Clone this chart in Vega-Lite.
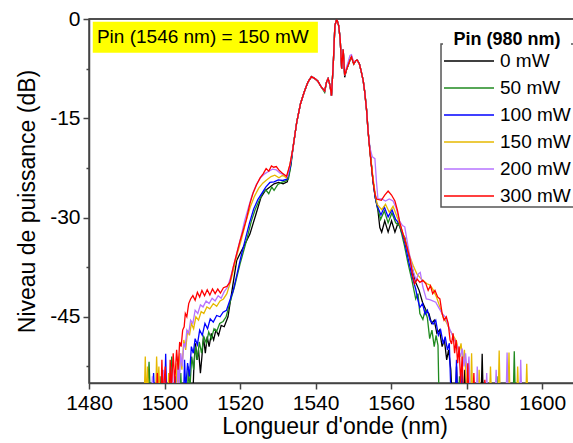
{
"$schema":"https://vega.github.io/schema/vega-lite/v6.json",
"width":491,"height":364,
"autosize":{"type":"none"},
"padding":{"left":89,"top":19,"right":0,"bottom":60},
"background":"white",
"config":{
"font":"Liberation Sans",
"view":{"stroke":"#444","strokeWidth":1.5},
"axis":{"grid":false,"domainColor":"#444","domainWidth":1.5,"tickColor":"#444","tickWidth":1.5,"labelFont":"Liberation Sans","labelFontSize":21,"labelColor":"#000","titleFont":"Liberation Sans","titleFontSize":23,"titleFontWeight":"normal","titleColor":"#000"}
},
"layer":[
{
"data":{"values":[
{"pin":"0 mW","wl":1496.0,"db":-58},{"pin":"0 mW","wl":1499.0,"db":-58},{"pin":"0 mW","wl":1499.3,"db":-53},{"pin":"0 mW","wl":1499.6,"db":-58},{"pin":"0 mW","wl":1503.5,"db":-58},{"pin":"0 mW","wl":1503.8,"db":-54},{"pin":"0 mW","wl":1504.1,"db":-58},{"pin":"0 mW","wl":1506.5,"db":-58},{"pin":"0 mW","wl":1506.8,"db":-54.5},{"pin":"0 mW","wl":1507.1,"db":-58},{"pin":"0 mW","wl":1507.5,"db":-57},{"pin":"0 mW","wl":1507.8,"db":-52},{"pin":"0 mW","wl":1508.2,"db":-49},{"pin":"0 mW","wl":1508.6,"db":-51.5},{"pin":"0 mW","wl":1509.0,"db":-50},{"pin":"0 mW","wl":1509.5,"db":-53.5},{"pin":"0 mW","wl":1509.9,"db":-51},{"pin":"0 mW","wl":1510.3,"db":-48},{"pin":"0 mW","wl":1510.8,"db":-50.5},{"pin":"0 mW","wl":1511.3,"db":-48},{"pin":"0 mW","wl":1511.8,"db":-49.5},{"pin":"0 mW","wl":1512.4,"db":-47.5},{"pin":"0 mW","wl":1513.0,"db":-48.5},{"pin":"0 mW","wl":1513.6,"db":-47},{"pin":"0 mW","wl":1514.3,"db":-47.8},{"pin":"0 mW","wl":1515.0,"db":-46.3},{"pin":"0 mW","wl":1515.8,"db":-46.5},{"pin":"0 mW","wl":1516.8,"db":-45},{"pin":"0 mW","wl":1518.0,"db":-40.5},{"pin":"0 mW","wl":1519.1,"db":-36.5},{"pin":"0 mW","wl":1520.2,"db":-35.2},{"pin":"0 mW","wl":1521.3,"db":-34},{"pin":"0 mW","wl":1522.6,"db":-32.5},{"pin":"0 mW","wl":1524.2,"db":-29.5},{"pin":"0 mW","wl":1525.5,"db":-27},{"pin":"0 mW","wl":1526.7,"db":-25.9},{"pin":"0 mW","wl":1527.9,"db":-25.4},{"pin":"0 mW","wl":1529.0,"db":-24.9},{"pin":"0 mW","wl":1530.2,"db":-24.7},{"pin":"0 mW","wl":1531.4,"db":-24.9},{"pin":"0 mW","wl":1532.5,"db":-24.6},{"pin":"0 mW","wl":1533.3,"db":-22.5},
{"pin":"0 mW","wl":1534.0,"db":-19.5},{"pin":"0 mW","wl":1535.0,"db":-15.6},{"pin":"0 mW","wl":1536.0,"db":-12.8},{"pin":"0 mW","wl":1537.0,"db":-11.0},{"pin":"0 mW","wl":1538.0,"db":-9.5},{"pin":"0 mW","wl":1538.9,"db":-8.7},{"pin":"0 mW","wl":1539.8,"db":-9.0},{"pin":"0 mW","wl":1540.6,"db":-9.4},{"pin":"0 mW","wl":1541.4,"db":-10.2},{"pin":"0 mW","wl":1542.4,"db":-10.9},{"pin":"0 mW","wl":1542.9,"db":-9.5},{"pin":"0 mW","wl":1543.3,"db":-9.0},{"pin":"0 mW","wl":1543.8,"db":-10.0},{"pin":"0 mW","wl":1544.2,"db":-11.6},{"pin":"0 mW","wl":1544.7,"db":-6.5},{"pin":"0 mW","wl":1545.1,"db":-1.0},{"pin":"0 mW","wl":1545.6,"db":0},{"pin":"0 mW","wl":1546.1,"db":-1.0},{"pin":"0 mW","wl":1546.5,"db":-3.0},{"pin":"0 mW","wl":1546.9,"db":-7.5},{"pin":"0 mW","wl":1547.3,"db":-4.6},{"pin":"0 mW","wl":1547.7,"db":-8.8},{"pin":"0 mW","wl":1548.2,"db":-7.6},{"pin":"0 mW","wl":1548.6,"db":-7.0},{"pin":"0 mW","wl":1549.1,"db":-6.2},{"pin":"0 mW","wl":1549.5,"db":-5.7},{"pin":"0 mW","wl":1550.1,"db":-6.8},{"pin":"0 mW","wl":1550.6,"db":-6.3},{"pin":"0 mW","wl":1551.0,"db":-6.2},{"pin":"0 mW","wl":1551.6,"db":-6.8},{"pin":"0 mW","wl":1552.1,"db":-8.0},{"pin":"0 mW","wl":1552.6,"db":-9.3},{"pin":"0 mW","wl":1553.0,"db":-11.0},{"pin":"0 mW","wl":1553.5,"db":-13.8},{"pin":"0 mW","wl":1553.9,"db":-17.0},
{"pin":"0 mW","wl":1554.5,"db":-20.5},{"pin":"0 mW","wl":1555.2,"db":-24.5},{"pin":"0 mW","wl":1555.8,"db":-27},{"pin":"0 mW","wl":1556.5,"db":-28.9},{"pin":"0 mW","wl":1557.0,"db":-31.5},{"pin":"0 mW","wl":1557.5,"db":-32.2},{"pin":"0 mW","wl":1558.3,"db":-30.5},{"pin":"0 mW","wl":1559.2,"db":-32.2},{"pin":"0 mW","wl":1560.1,"db":-30.5},{"pin":"0 mW","wl":1561.0,"db":-32.2},{"pin":"0 mW","wl":1561.9,"db":-30.7},{"pin":"0 mW","wl":1562.8,"db":-32.3},{"pin":"0 mW","wl":1563.6,"db":-33},{"pin":"0 mW","wl":1564.3,"db":-34.8},{"pin":"0 mW","wl":1565.5,"db":-37.5},{"pin":"0 mW","wl":1566.5,"db":-39.8},{"pin":"0 mW","wl":1567.4,"db":-41},{"pin":"0 mW","wl":1568.3,"db":-42.8},{"pin":"0 mW","wl":1569.3,"db":-44.1},{"pin":"0 mW","wl":1570.0,"db":-44.5},{"pin":"0 mW","wl":1570.7,"db":-46},{"pin":"0 mW","wl":1571.4,"db":-45.5},{"pin":"0 mW","wl":1572.1,"db":-47.5},{"pin":"0 mW","wl":1572.8,"db":-47},{"pin":"0 mW","wl":1573.5,"db":-49.5},{"pin":"0 mW","wl":1574.1,"db":-48.5},{"pin":"0 mW","wl":1574.7,"db":-51.5},{"pin":"0 mW","wl":1575.2,"db":-50},{"pin":"0 mW","wl":1575.8,"db":-53},{"pin":"0 mW","wl":1576.2,"db":-58},{"pin":"0 mW","wl":1577.0,"db":-58},{"pin":"0 mW","wl":1577.3,"db":-52.5},{"pin":"0 mW","wl":1577.6,"db":-58},{"pin":"0 mW","wl":1579.2,"db":-58},{"pin":"0 mW","wl":1579.5,"db":-53},{"pin":"0 mW","wl":1579.8,"db":-58},{"pin":"0 mW","wl":1583.8,"db":-58},{"pin":"0 mW","wl":1584.1,"db":-50.6},{"pin":"0 mW","wl":1584.4,"db":-58},{"pin":"0 mW","wl":1586.0,"db":-58},

{"pin":"50 mW","wl":1495.4,"db":-58},{"pin":"50 mW","wl":1495.9,"db":-51.8},{"pin":"50 mW","wl":1496.3,"db":-58},{"pin":"50 mW","wl":1498.5,"db":-58},{"pin":"50 mW","wl":1498.8,"db":-54},{"pin":"50 mW","wl":1499.1,"db":-58},{"pin":"50 mW","wl":1501.6,"db":-58},{"pin":"50 mW","wl":1501.9,"db":-51},{"pin":"50 mW","wl":1502.2,"db":-58},{"pin":"50 mW","wl":1504.0,"db":-58},{"pin":"50 mW","wl":1504.3,"db":-53.5},{"pin":"50 mW","wl":1504.6,"db":-58},{"pin":"50 mW","wl":1506.0,"db":-58},{"pin":"50 mW","wl":1506.3,"db":-52.5},{"pin":"50 mW","wl":1506.7,"db":-56},{"pin":"50 mW","wl":1507.2,"db":-51},{"pin":"50 mW","wl":1507.7,"db":-53},{"pin":"50 mW","wl":1508.2,"db":-49.5},{"pin":"50 mW","wl":1508.7,"db":-51.5},{"pin":"50 mW","wl":1509.2,"db":-48.8},{"pin":"50 mW","wl":1509.8,"db":-50.5},{"pin":"50 mW","wl":1510.4,"db":-48},{"pin":"50 mW","wl":1511.1,"db":-49},{"pin":"50 mW","wl":1511.7,"db":-47.3},{"pin":"50 mW","wl":1512.4,"db":-48.3},{"pin":"50 mW","wl":1513.1,"db":-46.8},{"pin":"50 mW","wl":1513.8,"db":-47.2},{"pin":"50 mW","wl":1514.6,"db":-46},{"pin":"50 mW","wl":1515.5,"db":-45.7},{"pin":"50 mW","wl":1516.3,"db":-45},{"pin":"50 mW","wl":1517.0,"db":-43.5},{"pin":"50 mW","wl":1518.5,"db":-40.5},{"pin":"50 mW","wl":1520.0,"db":-37},{"pin":"50 mW","wl":1521.7,"db":-33.5},{"pin":"50 mW","wl":1523.0,"db":-30.5},{"pin":"50 mW","wl":1524.0,"db":-28.8},{"pin":"50 mW","wl":1525.0,"db":-27.5},{"pin":"50 mW","wl":1526.0,"db":-26.3},{"pin":"50 mW","wl":1526.8,"db":-25.8},{"pin":"50 mW","wl":1527.6,"db":-26.4},{"pin":"50 mW","wl":1528.4,"db":-25.4},{"pin":"50 mW","wl":1529.0,"db":-25.9},{"pin":"50 mW","wl":1530.0,"db":-25},{"pin":"50 mW","wl":1531.0,"db":-24.7},{"pin":"50 mW","wl":1532.0,"db":-24.5},{"pin":"50 mW","wl":1532.8,"db":-24.2},{"pin":"50 mW","wl":1533.5,"db":-22},
{"pin":"50 mW","wl":1534.0,"db":-19.5},{"pin":"50 mW","wl":1535.0,"db":-15.6},{"pin":"50 mW","wl":1536.0,"db":-12.8},{"pin":"50 mW","wl":1537.0,"db":-11.0},{"pin":"50 mW","wl":1538.0,"db":-9.5},{"pin":"50 mW","wl":1538.9,"db":-8.7},{"pin":"50 mW","wl":1539.8,"db":-9.0},{"pin":"50 mW","wl":1540.6,"db":-9.4},{"pin":"50 mW","wl":1541.4,"db":-10.2},{"pin":"50 mW","wl":1542.4,"db":-11.1},{"pin":"50 mW","wl":1542.9,"db":-9.5},{"pin":"50 mW","wl":1543.3,"db":-9.0},{"pin":"50 mW","wl":1543.8,"db":-10.0},{"pin":"50 mW","wl":1544.2,"db":-11.6},{"pin":"50 mW","wl":1544.7,"db":-6.5},{"pin":"50 mW","wl":1545.1,"db":-1.0},{"pin":"50 mW","wl":1545.6,"db":0},{"pin":"50 mW","wl":1546.1,"db":-1.0},{"pin":"50 mW","wl":1546.5,"db":-3.0},{"pin":"50 mW","wl":1546.9,"db":-7.5},{"pin":"50 mW","wl":1547.3,"db":-4.6},{"pin":"50 mW","wl":1547.7,"db":-8.5},{"pin":"50 mW","wl":1548.2,"db":-7.6},{"pin":"50 mW","wl":1548.6,"db":-7.0},{"pin":"50 mW","wl":1549.1,"db":-6.2},{"pin":"50 mW","wl":1549.5,"db":-5.7},{"pin":"50 mW","wl":1550.1,"db":-6.8},{"pin":"50 mW","wl":1550.6,"db":-6.3},{"pin":"50 mW","wl":1551.0,"db":-6.2},{"pin":"50 mW","wl":1551.6,"db":-6.8},{"pin":"50 mW","wl":1552.1,"db":-8.0},{"pin":"50 mW","wl":1552.6,"db":-9.3},{"pin":"50 mW","wl":1553.0,"db":-11.0},{"pin":"50 mW","wl":1553.5,"db":-13.8},{"pin":"50 mW","wl":1553.9,"db":-17.0},
{"pin":"50 mW","wl":1554.5,"db":-20.5},{"pin":"50 mW","wl":1555.2,"db":-24.5},{"pin":"50 mW","wl":1555.8,"db":-27},{"pin":"50 mW","wl":1556.4,"db":-28.5},{"pin":"50 mW","wl":1557.2,"db":-30.3},{"pin":"50 mW","wl":1558.2,"db":-29},{"pin":"50 mW","wl":1559.2,"db":-30.8},{"pin":"50 mW","wl":1560.2,"db":-29.3},{"pin":"50 mW","wl":1561.2,"db":-30.8},{"pin":"50 mW","wl":1562.3,"db":-31.3},{"pin":"50 mW","wl":1563.5,"db":-34.2},{"pin":"50 mW","wl":1564.5,"db":-37},{"pin":"50 mW","wl":1565.5,"db":-39.5},{"pin":"50 mW","wl":1566.5,"db":-42.3},{"pin":"50 mW","wl":1567.1,"db":-41.5},{"pin":"50 mW","wl":1567.6,"db":-44.5},{"pin":"50 mW","wl":1568.4,"db":-45.4},{"pin":"50 mW","wl":1569.0,"db":-44},{"pin":"50 mW","wl":1569.6,"db":-45.2},{"pin":"50 mW","wl":1570.2,"db":-48.3},{"pin":"50 mW","wl":1570.8,"db":-47},{"pin":"50 mW","wl":1571.4,"db":-49.5},{"pin":"50 mW","wl":1571.9,"db":-47.8},{"pin":"50 mW","wl":1572.4,"db":-49.3},{"pin":"50 mW","wl":1572.7,"db":-58},{"pin":"50 mW","wl":1577.8,"db":-58},{"pin":"50 mW","wl":1578.1,"db":-54},{"pin":"50 mW","wl":1578.4,"db":-58},{"pin":"50 mW","wl":1588.0,"db":-58},{"pin":"50 mW","wl":1588.3,"db":-54},{"pin":"50 mW","wl":1588.6,"db":-58},{"pin":"50 mW","wl":1592.3,"db":-58},{"pin":"50 mW","wl":1592.6,"db":-50.2},{"pin":"50 mW","wl":1592.9,"db":-58},

{"pin":"100 mW","wl":1496.8,"db":-58},{"pin":"100 mW","wl":1497.1,"db":-53.5},{"pin":"100 mW","wl":1497.4,"db":-58},{"pin":"100 mW","wl":1500.0,"db":-58},{"pin":"100 mW","wl":1500.3,"db":-50.6},{"pin":"100 mW","wl":1500.6,"db":-58},{"pin":"100 mW","wl":1502.5,"db":-58},{"pin":"100 mW","wl":1502.8,"db":-54},{"pin":"100 mW","wl":1503.1,"db":-58},{"pin":"100 mW","wl":1505.0,"db":-58},{"pin":"100 mW","wl":1505.3,"db":-51.5},{"pin":"100 mW","wl":1505.6,"db":-56},{"pin":"100 mW","wl":1506.1,"db":-52},{"pin":"100 mW","wl":1506.6,"db":-54},{"pin":"100 mW","wl":1507.1,"db":-49.5},{"pin":"100 mW","wl":1507.6,"db":-50.5},{"pin":"100 mW","wl":1508.1,"db":-48.3},{"pin":"100 mW","wl":1508.7,"db":-49.2},{"pin":"100 mW","wl":1509.3,"db":-47},{"pin":"100 mW","wl":1510.0,"db":-47.8},{"pin":"100 mW","wl":1510.7,"db":-46},{"pin":"100 mW","wl":1511.4,"db":-46.8},{"pin":"100 mW","wl":1512.1,"db":-45.3},{"pin":"100 mW","wl":1512.9,"db":-45.8},{"pin":"100 mW","wl":1513.8,"db":-44.8},{"pin":"100 mW","wl":1514.7,"db":-45},{"pin":"100 mW","wl":1515.5,"db":-44.3},{"pin":"100 mW","wl":1516.4,"db":-44},{"pin":"100 mW","wl":1517.3,"db":-42.5},{"pin":"100 mW","wl":1518.2,"db":-41},{"pin":"100 mW","wl":1519.2,"db":-38.5},{"pin":"100 mW","wl":1520.2,"db":-36},{"pin":"100 mW","wl":1521.3,"db":-33.5},{"pin":"100 mW","wl":1522.5,"db":-30.8},{"pin":"100 mW","wl":1523.6,"db":-28.7},{"pin":"100 mW","wl":1524.7,"db":-27.3},{"pin":"100 mW","wl":1525.8,"db":-26.3},{"pin":"100 mW","wl":1526.8,"db":-25.4},{"pin":"100 mW","wl":1527.9,"db":-24.7},{"pin":"100 mW","wl":1529.0,"db":-24.6},{"pin":"100 mW","wl":1530.1,"db":-24.3},{"pin":"100 mW","wl":1531.3,"db":-24.4},{"pin":"100 mW","wl":1532.4,"db":-24.2},{"pin":"100 mW","wl":1533.3,"db":-22.3},
{"pin":"100 mW","wl":1534.0,"db":-19.5},{"pin":"100 mW","wl":1535.0,"db":-15.6},{"pin":"100 mW","wl":1536.0,"db":-12.8},{"pin":"100 mW","wl":1537.0,"db":-11.0},{"pin":"100 mW","wl":1538.0,"db":-9.5},{"pin":"100 mW","wl":1538.9,"db":-8.7},{"pin":"100 mW","wl":1539.8,"db":-9.0},{"pin":"100 mW","wl":1540.6,"db":-9.4},{"pin":"100 mW","wl":1541.4,"db":-10.2},{"pin":"100 mW","wl":1542.4,"db":-10.9},{"pin":"100 mW","wl":1542.9,"db":-9.5},{"pin":"100 mW","wl":1543.3,"db":-9.0},{"pin":"100 mW","wl":1543.8,"db":-10.0},{"pin":"100 mW","wl":1544.2,"db":-11.6},{"pin":"100 mW","wl":1544.7,"db":-6.5},{"pin":"100 mW","wl":1545.1,"db":-1.0},{"pin":"100 mW","wl":1545.6,"db":0},{"pin":"100 mW","wl":1546.1,"db":-1.0},{"pin":"100 mW","wl":1546.5,"db":-3.0},{"pin":"100 mW","wl":1546.9,"db":-7.5},{"pin":"100 mW","wl":1547.3,"db":-4.6},{"pin":"100 mW","wl":1547.7,"db":-8.5},{"pin":"100 mW","wl":1548.2,"db":-7.6},{"pin":"100 mW","wl":1548.6,"db":-7.0},{"pin":"100 mW","wl":1549.1,"db":-6.2},{"pin":"100 mW","wl":1549.5,"db":-5.7},{"pin":"100 mW","wl":1550.1,"db":-6.8},{"pin":"100 mW","wl":1550.6,"db":-6.3},{"pin":"100 mW","wl":1551.0,"db":-6.2},{"pin":"100 mW","wl":1551.6,"db":-6.8},{"pin":"100 mW","wl":1552.1,"db":-8.0},{"pin":"100 mW","wl":1552.6,"db":-9.3},{"pin":"100 mW","wl":1553.0,"db":-11.0},{"pin":"100 mW","wl":1553.5,"db":-13.8},{"pin":"100 mW","wl":1553.9,"db":-17.0},
{"pin":"100 mW","wl":1554.5,"db":-20.5},{"pin":"100 mW","wl":1555.2,"db":-24.5},{"pin":"100 mW","wl":1555.8,"db":-27},{"pin":"100 mW","wl":1556.3,"db":-28.2},{"pin":"100 mW","wl":1557.3,"db":-29.6},{"pin":"100 mW","wl":1558.2,"db":-28.4},{"pin":"100 mW","wl":1559.2,"db":-29.9},{"pin":"100 mW","wl":1560.2,"db":-28.8},{"pin":"100 mW","wl":1561.2,"db":-30.3},{"pin":"100 mW","wl":1562.3,"db":-31},{"pin":"100 mW","wl":1563.5,"db":-33.5},{"pin":"100 mW","wl":1564.6,"db":-36.5},{"pin":"100 mW","wl":1565.6,"db":-39},{"pin":"100 mW","wl":1566.5,"db":-40.8},{"pin":"100 mW","wl":1567.1,"db":-42.5},{"pin":"100 mW","wl":1567.6,"db":-43.6},{"pin":"100 mW","wl":1568.3,"db":-43},{"pin":"100 mW","wl":1569.0,"db":-44.6},{"pin":"100 mW","wl":1569.6,"db":-44},{"pin":"100 mW","wl":1570.3,"db":-45.5},{"pin":"100 mW","wl":1571.1,"db":-46.1},{"pin":"100 mW","wl":1571.8,"db":-45.5},{"pin":"100 mW","wl":1572.5,"db":-47.8},{"pin":"100 mW","wl":1573.1,"db":-47},{"pin":"100 mW","wl":1573.8,"db":-49.1},{"pin":"100 mW","wl":1574.3,"db":-48},{"pin":"100 mW","wl":1574.9,"db":-50},{"pin":"100 mW","wl":1575.4,"db":-49},{"pin":"100 mW","wl":1575.9,"db":-58},{"pin":"100 mW","wl":1577.0,"db":-58},{"pin":"100 mW","wl":1577.3,"db":-51.5},{"pin":"100 mW","wl":1577.6,"db":-58},{"pin":"100 mW","wl":1578.5,"db":-58},{"pin":"100 mW","wl":1578.8,"db":-53},{"pin":"100 mW","wl":1579.1,"db":-58},{"pin":"100 mW","wl":1580.0,"db":-58},

{"pin":"150 mW","wl":1494.6,"db":-58},{"pin":"150 mW","wl":1494.9,"db":-51},{"pin":"150 mW","wl":1495.2,"db":-58},{"pin":"150 mW","wl":1495.5,"db":-52.5},{"pin":"150 mW","wl":1495.8,"db":-58},{"pin":"150 mW","wl":1497.6,"db":-58},{"pin":"150 mW","wl":1497.9,"db":-51},{"pin":"150 mW","wl":1498.2,"db":-56},{"pin":"150 mW","wl":1498.5,"db":-52.5},{"pin":"150 mW","wl":1498.8,"db":-58},{"pin":"150 mW","wl":1500.8,"db":-58},{"pin":"150 mW","wl":1501.1,"db":-53.5},{"pin":"150 mW","wl":1501.4,"db":-58},{"pin":"150 mW","wl":1503.0,"db":-58},{"pin":"150 mW","wl":1503.3,"db":-52},{"pin":"150 mW","wl":1503.6,"db":-56},{"pin":"150 mW","wl":1504.1,"db":-50.5},{"pin":"150 mW","wl":1504.6,"db":-53},{"pin":"150 mW","wl":1505.1,"db":-48.5},{"pin":"150 mW","wl":1505.6,"db":-50},{"pin":"150 mW","wl":1506.1,"db":-47},{"pin":"150 mW","wl":1506.6,"db":-47.8},{"pin":"150 mW","wl":1507.1,"db":-46},{"pin":"150 mW","wl":1507.7,"db":-46.8},{"pin":"150 mW","wl":1508.3,"db":-45},{"pin":"150 mW","wl":1509.0,"db":-45.5},{"pin":"150 mW","wl":1509.7,"db":-44.2},{"pin":"150 mW","wl":1510.4,"db":-44.5},{"pin":"150 mW","wl":1511.2,"db":-43.5},{"pin":"150 mW","wl":1512.0,"db":-43.8},{"pin":"150 mW","wl":1512.9,"db":-43},{"pin":"150 mW","wl":1513.8,"db":-43.4},{"pin":"150 mW","wl":1514.7,"db":-42.6},{"pin":"150 mW","wl":1515.6,"db":-42.3},{"pin":"150 mW","wl":1516.5,"db":-41.5},{"pin":"150 mW","wl":1517.3,"db":-40},{"pin":"150 mW","wl":1518.2,"db":-38},{"pin":"150 mW","wl":1519.2,"db":-35.6},{"pin":"150 mW","wl":1520.4,"db":-33.2},{"pin":"150 mW","wl":1521.6,"db":-30.5},{"pin":"150 mW","wl":1522.7,"db":-28.4},{"pin":"150 mW","wl":1523.8,"db":-26.8},{"pin":"150 mW","wl":1524.9,"db":-25.6},{"pin":"150 mW","wl":1526.0,"db":-24.8},{"pin":"150 mW","wl":1527.1,"db":-24.3},{"pin":"150 mW","wl":1528.2,"db":-23.8},{"pin":"150 mW","wl":1529.2,"db":-23.6},{"pin":"150 mW","wl":1530.3,"db":-24},{"pin":"150 mW","wl":1531.3,"db":-23.6},{"pin":"150 mW","wl":1532.3,"db":-24},{"pin":"150 mW","wl":1533.2,"db":-22},
{"pin":"150 mW","wl":1534.0,"db":-19.5},{"pin":"150 mW","wl":1535.0,"db":-15.6},{"pin":"150 mW","wl":1536.0,"db":-12.8},{"pin":"150 mW","wl":1537.0,"db":-11.0},{"pin":"150 mW","wl":1538.0,"db":-9.5},{"pin":"150 mW","wl":1538.9,"db":-8.7},{"pin":"150 mW","wl":1539.8,"db":-9.0},{"pin":"150 mW","wl":1540.6,"db":-9.4},{"pin":"150 mW","wl":1541.4,"db":-10.2},{"pin":"150 mW","wl":1542.4,"db":-10.9},{"pin":"150 mW","wl":1542.9,"db":-9.5},{"pin":"150 mW","wl":1543.3,"db":-9.0},{"pin":"150 mW","wl":1543.8,"db":-10.0},{"pin":"150 mW","wl":1544.2,"db":-11.6},{"pin":"150 mW","wl":1544.7,"db":-6.5},{"pin":"150 mW","wl":1545.1,"db":-1.0},{"pin":"150 mW","wl":1545.6,"db":0},{"pin":"150 mW","wl":1546.1,"db":-1.0},{"pin":"150 mW","wl":1546.5,"db":-3.0},{"pin":"150 mW","wl":1546.9,"db":-7.5},{"pin":"150 mW","wl":1547.3,"db":-4.6},{"pin":"150 mW","wl":1547.7,"db":-8.5},{"pin":"150 mW","wl":1548.2,"db":-7.6},{"pin":"150 mW","wl":1548.6,"db":-7.0},{"pin":"150 mW","wl":1549.1,"db":-6.2},{"pin":"150 mW","wl":1549.5,"db":-5.7},{"pin":"150 mW","wl":1550.1,"db":-6.8},{"pin":"150 mW","wl":1550.6,"db":-6.3},{"pin":"150 mW","wl":1551.0,"db":-6.2},{"pin":"150 mW","wl":1551.6,"db":-6.8},{"pin":"150 mW","wl":1552.1,"db":-8.0},{"pin":"150 mW","wl":1552.6,"db":-9.3},{"pin":"150 mW","wl":1553.0,"db":-11.0},{"pin":"150 mW","wl":1553.5,"db":-13.8},{"pin":"150 mW","wl":1553.9,"db":-17.0},
{"pin":"150 mW","wl":1554.5,"db":-20.5},{"pin":"150 mW","wl":1555.2,"db":-24},{"pin":"150 mW","wl":1555.8,"db":-26.5},{"pin":"150 mW","wl":1556.3,"db":-28},{"pin":"150 mW","wl":1557.5,"db":-28.8},{"pin":"150 mW","wl":1558.5,"db":-28},{"pin":"150 mW","wl":1559.5,"db":-29.2},{"pin":"150 mW","wl":1560.5,"db":-28.3},{"pin":"150 mW","wl":1561.3,"db":-29.5},{"pin":"150 mW","wl":1562.3,"db":-31},{"pin":"150 mW","wl":1563.5,"db":-33},{"pin":"150 mW","wl":1564.7,"db":-35.5},{"pin":"150 mW","wl":1565.8,"db":-37.2},{"pin":"150 mW","wl":1566.8,"db":-38.5},{"pin":"150 mW","wl":1568.0,"db":-39.3},{"pin":"150 mW","wl":1569.5,"db":-40},{"pin":"150 mW","wl":1570.3,"db":-40.2},{"pin":"150 mW","wl":1571.1,"db":-40.9},{"pin":"150 mW","wl":1572.0,"db":-42},{"pin":"150 mW","wl":1572.9,"db":-43.5},{"pin":"150 mW","wl":1573.8,"db":-45.1},{"pin":"150 mW","wl":1574.6,"db":-45.8},{"pin":"150 mW","wl":1575.5,"db":-47},{"pin":"150 mW","wl":1576.4,"db":-47.8},{"pin":"150 mW","wl":1577.3,"db":-48.7},{"pin":"150 mW","wl":1578.0,"db":-50.5},{"pin":"150 mW","wl":1578.5,"db":-49},{"pin":"150 mW","wl":1579.0,"db":-52},{"pin":"150 mW","wl":1579.4,"db":-50},{"pin":"150 mW","wl":1579.8,"db":-54},{"pin":"150 mW","wl":1580.2,"db":-58},{"pin":"150 mW","wl":1581.0,"db":-58},{"pin":"150 mW","wl":1581.3,"db":-50.5},{"pin":"150 mW","wl":1581.6,"db":-58},{"pin":"150 mW","wl":1583.0,"db":-58},{"pin":"150 mW","wl":1583.3,"db":-53},{"pin":"150 mW","wl":1583.6,"db":-58},{"pin":"150 mW","wl":1586.0,"db":-58},{"pin":"150 mW","wl":1586.3,"db":-52.5},{"pin":"150 mW","wl":1586.6,"db":-58},{"pin":"150 mW","wl":1588.3,"db":-58},{"pin":"150 mW","wl":1588.6,"db":-50.1},{"pin":"150 mW","wl":1588.9,"db":-58},{"pin":"150 mW","wl":1590.9,"db":-58},{"pin":"150 mW","wl":1591.2,"db":-50.4},{"pin":"150 mW","wl":1591.5,"db":-58},{"pin":"150 mW","wl":1593.2,"db":-58},{"pin":"150 mW","wl":1593.5,"db":-52.5},{"pin":"150 mW","wl":1593.8,"db":-58},{"pin":"150 mW","wl":1595.6,"db":-58},{"pin":"150 mW","wl":1595.9,"db":-52.1},{"pin":"150 mW","wl":1596.2,"db":-58},

{"pin":"200 mW","wl":1496.5,"db":-58},{"pin":"200 mW","wl":1496.8,"db":-54},{"pin":"200 mW","wl":1497.1,"db":-58},{"pin":"200 mW","wl":1499.5,"db":-58},{"pin":"200 mW","wl":1499.8,"db":-53},{"pin":"200 mW","wl":1500.1,"db":-58},{"pin":"200 mW","wl":1501.8,"db":-58},{"pin":"200 mW","wl":1502.1,"db":-52.5},{"pin":"200 mW","wl":1502.4,"db":-58},{"pin":"200 mW","wl":1503.3,"db":-58},{"pin":"200 mW","wl":1503.6,"db":-51},{"pin":"200 mW","wl":1503.9,"db":-55},{"pin":"200 mW","wl":1504.3,"db":-50.5},{"pin":"200 mW","wl":1504.7,"db":-52.5},{"pin":"200 mW","wl":1505.1,"db":-49},{"pin":"200 mW","wl":1505.5,"db":-49.5},{"pin":"200 mW","wl":1505.9,"db":-47},{"pin":"200 mW","wl":1506.4,"db":-47.5},{"pin":"200 mW","wl":1506.9,"db":-45.5},{"pin":"200 mW","wl":1507.5,"db":-46},{"pin":"200 mW","wl":1508.1,"db":-44},{"pin":"200 mW","wl":1508.8,"db":-44.5},{"pin":"200 mW","wl":1509.5,"db":-43.2},{"pin":"200 mW","wl":1510.2,"db":-43.5},{"pin":"200 mW","wl":1511.0,"db":-42.6},{"pin":"200 mW","wl":1511.8,"db":-43},{"pin":"200 mW","wl":1512.6,"db":-42.2},{"pin":"200 mW","wl":1513.4,"db":-42.6},{"pin":"200 mW","wl":1514.2,"db":-41.8},{"pin":"200 mW","wl":1515.0,"db":-42.2},{"pin":"200 mW","wl":1515.8,"db":-41.2},{"pin":"200 mW","wl":1516.7,"db":-40.5},{"pin":"200 mW","wl":1517.5,"db":-39},{"pin":"200 mW","wl":1518.4,"db":-37},{"pin":"200 mW","wl":1519.3,"db":-35},{"pin":"200 mW","wl":1520.2,"db":-33},{"pin":"200 mW","wl":1521.2,"db":-30.5},{"pin":"200 mW","wl":1522.2,"db":-28.5},{"pin":"200 mW","wl":1523.2,"db":-26.6},{"pin":"200 mW","wl":1524.3,"db":-25},{"pin":"200 mW","wl":1525.4,"db":-24},{"pin":"200 mW","wl":1526.5,"db":-23.4},{"pin":"200 mW","wl":1527.6,"db":-23},{"pin":"200 mW","wl":1528.6,"db":-22.7},{"pin":"200 mW","wl":1529.6,"db":-22.8},{"pin":"200 mW","wl":1530.6,"db":-23.3},{"pin":"200 mW","wl":1531.6,"db":-23.5},{"pin":"200 mW","wl":1532.6,"db":-23.8},{"pin":"200 mW","wl":1533.3,"db":-21.8},
{"pin":"200 mW","wl":1534.0,"db":-19.5},{"pin":"200 mW","wl":1535.0,"db":-15.6},{"pin":"200 mW","wl":1536.0,"db":-12.8},{"pin":"200 mW","wl":1537.0,"db":-11.0},{"pin":"200 mW","wl":1538.0,"db":-9.5},{"pin":"200 mW","wl":1538.9,"db":-8.7},{"pin":"200 mW","wl":1539.8,"db":-9.0},{"pin":"200 mW","wl":1540.6,"db":-9.4},{"pin":"200 mW","wl":1541.4,"db":-10.2},{"pin":"200 mW","wl":1542.4,"db":-10.9},{"pin":"200 mW","wl":1542.9,"db":-9.5},{"pin":"200 mW","wl":1543.3,"db":-9.0},{"pin":"200 mW","wl":1543.8,"db":-10.0},{"pin":"200 mW","wl":1544.2,"db":-11.6},{"pin":"200 mW","wl":1544.7,"db":-6.5},{"pin":"200 mW","wl":1545.1,"db":-1.0},{"pin":"200 mW","wl":1545.6,"db":0},{"pin":"200 mW","wl":1546.1,"db":-1.0},{"pin":"200 mW","wl":1546.5,"db":-3.0},{"pin":"200 mW","wl":1546.9,"db":-7.5},{"pin":"200 mW","wl":1547.3,"db":-4.6},{"pin":"200 mW","wl":1547.7,"db":-8.5},{"pin":"200 mW","wl":1548.2,"db":-7.2},{"pin":"200 mW","wl":1548.6,"db":-6.5},{"pin":"200 mW","wl":1549.1,"db":-5.5},{"pin":"200 mW","wl":1549.5,"db":-5.4},{"pin":"200 mW","wl":1550.1,"db":-6.6},{"pin":"200 mW","wl":1550.6,"db":-6.3},{"pin":"200 mW","wl":1551.0,"db":-6.2},{"pin":"200 mW","wl":1551.6,"db":-6.8},{"pin":"200 mW","wl":1552.1,"db":-8.0},{"pin":"200 mW","wl":1552.6,"db":-9.3},{"pin":"200 mW","wl":1553.0,"db":-11.0},{"pin":"200 mW","wl":1553.5,"db":-13.8},{"pin":"200 mW","wl":1553.9,"db":-17.0},
{"pin":"200 mW","wl":1554.4,"db":-19.5},{"pin":"200 mW","wl":1555.0,"db":-20.8},{"pin":"200 mW","wl":1555.7,"db":-21.1},{"pin":"200 mW","wl":1556.1,"db":-24.5},{"pin":"200 mW","wl":1556.5,"db":-27.2},{"pin":"200 mW","wl":1557.5,"db":-27.2},{"pin":"200 mW","wl":1558.5,"db":-27.5},{"pin":"200 mW","wl":1559.5,"db":-27.2},{"pin":"200 mW","wl":1560.5,"db":-27.5},{"pin":"200 mW","wl":1561.3,"db":-28.5},{"pin":"200 mW","wl":1562.2,"db":-30.5},{"pin":"200 mW","wl":1563.0,"db":-31.2},{"pin":"200 mW","wl":1563.6,"db":-31.4},{"pin":"200 mW","wl":1564.3,"db":-33.8},{"pin":"200 mW","wl":1565.0,"db":-36},{"pin":"200 mW","wl":1565.8,"db":-38},{"pin":"200 mW","wl":1566.6,"db":-39.5},{"pin":"200 mW","wl":1567.2,"db":-38.5},{"pin":"200 mW","wl":1567.7,"db":-38.3},{"pin":"200 mW","wl":1568.4,"db":-40.5},{"pin":"200 mW","wl":1569.3,"db":-42.3},{"pin":"200 mW","wl":1570.2,"db":-42.4},{"pin":"200 mW","wl":1571.0,"db":-42.6},{"pin":"200 mW","wl":1571.8,"db":-42.8},{"pin":"200 mW","wl":1572.6,"db":-43.6},{"pin":"200 mW","wl":1573.5,"db":-44.5},{"pin":"200 mW","wl":1574.3,"db":-45},{"pin":"200 mW","wl":1575.1,"db":-46.3},{"pin":"200 mW","wl":1576.0,"db":-47.5},{"pin":"200 mW","wl":1576.8,"db":-48.5},{"pin":"200 mW","wl":1577.6,"db":-49.5},{"pin":"200 mW","wl":1578.3,"db":-51},{"pin":"200 mW","wl":1578.8,"db":-49.8},{"pin":"200 mW","wl":1579.3,"db":-52.5},{"pin":"200 mW","wl":1579.7,"db":-50.5},{"pin":"200 mW","wl":1580.2,"db":-54},{"pin":"200 mW","wl":1580.6,"db":-51},{"pin":"200 mW","wl":1581.0,"db":-58},{"pin":"200 mW","wl":1582.5,"db":-58},{"pin":"200 mW","wl":1582.8,"db":-52.5},{"pin":"200 mW","wl":1583.1,"db":-58},{"pin":"200 mW","wl":1585.0,"db":-58},{"pin":"200 mW","wl":1585.3,"db":-53.5},{"pin":"200 mW","wl":1585.6,"db":-58},{"pin":"200 mW","wl":1587.5,"db":-58},{"pin":"200 mW","wl":1587.8,"db":-53},{"pin":"200 mW","wl":1588.1,"db":-58},{"pin":"200 mW","wl":1590.4,"db":-58},{"pin":"200 mW","wl":1590.7,"db":-50.4},{"pin":"200 mW","wl":1591.0,"db":-58},{"pin":"200 mW","wl":1594.0,"db":-58},{"pin":"200 mW","wl":1594.3,"db":-51.5},{"pin":"200 mW","wl":1594.6,"db":-58},

{"pin":"300 mW","wl":1497.8,"db":-58},{"pin":"300 mW","wl":1498.1,"db":-53.5},{"pin":"300 mW","wl":1498.4,"db":-58},{"pin":"300 mW","wl":1499.0,"db":-58},{"pin":"300 mW","wl":1499.3,"db":-51.5},{"pin":"300 mW","wl":1499.6,"db":-57},{"pin":"300 mW","wl":1500.2,"db":-52.5},{"pin":"300 mW","wl":1500.5,"db":-58},{"pin":"300 mW","wl":1501.2,"db":-58},{"pin":"300 mW","wl":1501.5,"db":-51.5},{"pin":"300 mW","wl":1501.8,"db":-56},{"pin":"300 mW","wl":1502.3,"db":-50.5},{"pin":"300 mW","wl":1502.7,"db":-55},{"pin":"300 mW","wl":1503.2,"db":-50},{"pin":"300 mW","wl":1503.6,"db":-53},{"pin":"300 mW","wl":1504.0,"db":-48.8},{"pin":"300 mW","wl":1504.4,"db":-49.5},{"pin":"300 mW","wl":1504.8,"db":-47},{"pin":"300 mW","wl":1505.2,"db":-46.5},{"pin":"300 mW","wl":1505.5,"db":-44.5},{"pin":"300 mW","wl":1505.9,"db":-45},{"pin":"300 mW","wl":1506.4,"db":-43},{"pin":"300 mW","wl":1506.9,"db":-42.3},{"pin":"300 mW","wl":1507.5,"db":-41.8},{"pin":"300 mW","wl":1508.1,"db":-42.5},{"pin":"300 mW","wl":1508.7,"db":-41.3},{"pin":"300 mW","wl":1509.3,"db":-42},{"pin":"300 mW","wl":1509.9,"db":-41},{"pin":"300 mW","wl":1510.6,"db":-41.8},{"pin":"300 mW","wl":1511.3,"db":-40.9},{"pin":"300 mW","wl":1512.0,"db":-41.7},{"pin":"300 mW","wl":1512.7,"db":-40.8},{"pin":"300 mW","wl":1513.4,"db":-41.5},{"pin":"300 mW","wl":1514.1,"db":-40.8},{"pin":"300 mW","wl":1514.8,"db":-41.4},{"pin":"300 mW","wl":1515.6,"db":-40.6},{"pin":"300 mW","wl":1516.5,"db":-40.4},{"pin":"300 mW","wl":1517.3,"db":-39.8},{"pin":"300 mW","wl":1518.2,"db":-37.5},{"pin":"300 mW","wl":1519.1,"db":-35.5},{"pin":"300 mW","wl":1520.0,"db":-33.5},{"pin":"300 mW","wl":1520.9,"db":-31.8},{"pin":"300 mW","wl":1521.7,"db":-30.2},{"pin":"300 mW","wl":1522.6,"db":-27.9},{"pin":"300 mW","wl":1523.5,"db":-26.2},{"pin":"300 mW","wl":1524.4,"db":-25},{"pin":"300 mW","wl":1525.3,"db":-24},{"pin":"300 mW","wl":1526.1,"db":-23.4},{"pin":"300 mW","wl":1526.9,"db":-22.6},{"pin":"300 mW","wl":1527.6,"db":-23},{"pin":"300 mW","wl":1528.3,"db":-22.2},{"pin":"300 mW","wl":1528.9,"db":-22.4},{"pin":"300 mW","wl":1529.6,"db":-22.3},{"pin":"300 mW","wl":1530.4,"db":-22.9},{"pin":"300 mW","wl":1531.4,"db":-23.4},{"pin":"300 mW","wl":1532.3,"db":-23.8},{"pin":"300 mW","wl":1533.2,"db":-22},
{"pin":"300 mW","wl":1534.0,"db":-19.5},{"pin":"300 mW","wl":1535.0,"db":-15.6},{"pin":"300 mW","wl":1536.0,"db":-12.8},{"pin":"300 mW","wl":1537.0,"db":-11.0},{"pin":"300 mW","wl":1538.0,"db":-9.5},{"pin":"300 mW","wl":1538.9,"db":-8.7},{"pin":"300 mW","wl":1539.8,"db":-9.0},{"pin":"300 mW","wl":1540.6,"db":-9.4},{"pin":"300 mW","wl":1541.4,"db":-10.2},{"pin":"300 mW","wl":1542.4,"db":-10.9},{"pin":"300 mW","wl":1542.9,"db":-9.5},{"pin":"300 mW","wl":1543.3,"db":-9.0},{"pin":"300 mW","wl":1543.8,"db":-10.0},{"pin":"300 mW","wl":1544.2,"db":-11.6},{"pin":"300 mW","wl":1544.7,"db":-6.5},{"pin":"300 mW","wl":1545.1,"db":-1.0},{"pin":"300 mW","wl":1545.6,"db":0},{"pin":"300 mW","wl":1546.1,"db":-1.0},{"pin":"300 mW","wl":1546.5,"db":-3.0},{"pin":"300 mW","wl":1546.9,"db":-7.5},{"pin":"300 mW","wl":1547.3,"db":-4.6},{"pin":"300 mW","wl":1547.7,"db":-8.5},{"pin":"300 mW","wl":1548.2,"db":-7.6},{"pin":"300 mW","wl":1548.6,"db":-7.0},{"pin":"300 mW","wl":1549.1,"db":-6.2},{"pin":"300 mW","wl":1549.5,"db":-5.7},{"pin":"300 mW","wl":1550.1,"db":-6.8},{"pin":"300 mW","wl":1550.6,"db":-6.3},{"pin":"300 mW","wl":1551.0,"db":-6.2},{"pin":"300 mW","wl":1551.6,"db":-6.8},{"pin":"300 mW","wl":1552.1,"db":-8.0},{"pin":"300 mW","wl":1552.6,"db":-9.3},{"pin":"300 mW","wl":1553.0,"db":-11.0},{"pin":"300 mW","wl":1553.5,"db":-13.8},{"pin":"300 mW","wl":1553.9,"db":-17.0},
{"pin":"300 mW","wl":1554.5,"db":-20.8},{"pin":"300 mW","wl":1555.2,"db":-24.4},{"pin":"300 mW","wl":1555.7,"db":-26.4},{"pin":"300 mW","wl":1556.1,"db":-27.2},{"pin":"300 mW","wl":1557.4,"db":-27.4},{"pin":"300 mW","wl":1558.3,"db":-26.6},{"pin":"300 mW","wl":1559.2,"db":-26},{"pin":"300 mW","wl":1560.1,"db":-26.6},{"pin":"300 mW","wl":1561.0,"db":-27.5},{"pin":"300 mW","wl":1561.7,"db":-29},{"pin":"300 mW","wl":1562.3,"db":-30.8},{"pin":"300 mW","wl":1563.3,"db":-32.8},{"pin":"300 mW","wl":1564.2,"db":-34.5},{"pin":"300 mW","wl":1565.0,"db":-36.2},{"pin":"300 mW","wl":1565.6,"db":-38.5},{"pin":"300 mW","wl":1566.2,"db":-40},{"pin":"300 mW","wl":1566.9,"db":-39.3},{"pin":"300 mW","wl":1567.6,"db":-39.8},{"pin":"300 mW","wl":1568.4,"db":-39.5},{"pin":"300 mW","wl":1569.2,"db":-40},{"pin":"300 mW","wl":1569.8,"db":-41},{"pin":"300 mW","wl":1570.4,"db":-40.3},{"pin":"300 mW","wl":1571.0,"db":-41.5},{"pin":"300 mW","wl":1571.6,"db":-41},{"pin":"300 mW","wl":1572.3,"db":-42},{"pin":"300 mW","wl":1572.9,"db":-42.3},{"pin":"300 mW","wl":1573.5,"db":-44.5},{"pin":"300 mW","wl":1574.0,"db":-45.5},{"pin":"300 mW","wl":1574.6,"db":-45},{"pin":"300 mW","wl":1575.1,"db":-46},{"pin":"300 mW","wl":1575.6,"db":-48.5},{"pin":"300 mW","wl":1576.0,"db":-49.1},{"pin":"300 mW","wl":1576.4,"db":-47.5},{"pin":"300 mW","wl":1576.8,"db":-50.5},{"pin":"300 mW","wl":1577.2,"db":-48.5},{"pin":"300 mW","wl":1577.6,"db":-52},{"pin":"300 mW","wl":1578.0,"db":-49.5},{"pin":"300 mW","wl":1578.4,"db":-55},{"pin":"300 mW","wl":1578.8,"db":-51},{"pin":"300 mW","wl":1579.2,"db":-58},{"pin":"300 mW","wl":1580.0,"db":-58},{"pin":"300 mW","wl":1580.3,"db":-52},{"pin":"300 mW","wl":1580.6,"db":-58},{"pin":"300 mW","wl":1581.6,"db":-58},{"pin":"300 mW","wl":1581.9,"db":-53.5},{"pin":"300 mW","wl":1582.2,"db":-58},{"pin":"300 mW","wl":1584.5,"db":-58},{"pin":"300 mW","wl":1584.8,"db":-54.5},{"pin":"300 mW","wl":1585.1,"db":-58}
]},
"mark":{"type":"line","clip":true,"strokeWidth":1.3},
"encoding":{
"x":{"field":"wl","type":"quantitative","scale":{"domain":[1480,1610],"nice":false,"zero":false},
"axis":{"title":"Longueur d'onde (nm)","values":[1480,1490,1500,1510,1520,1530,1540,1550,1560,1570,1580,1590,1600,1610],"labelExpr":"datum.value % 20 === 0 ? datum.label : ''","tickSize":{"condition":{"test":"datum.value % 20 === 0","value":6},"value":3},"labelPadding":3,"titlePadding":2,"labelFlush":false,"labelOverlap":false,"format":"d"}},
"y":{"field":"db","type":"quantitative","scale":{"domain":[-55,0],"nice":false,"zero":false},
"axis":{"title":"Niveau de puissance (dB)","values":[-52.5,-45,-37.5,-30,-22.5,-15,-7.5,0],"labelExpr":"datum.value % 15 === 0 ? (datum.value < 0 ? '-' : '') + abs(datum.value) : ''","tickSize":{"condition":{"test":"datum.value % 15 === 0","value":6},"value":3},"labelPadding":3,"titlePadding":10,"labelFlush":false,"labelOverlap":false}},
"color":{"field":"pin","type":"nominal","scale":{"domain":["0 mW","50 mW","100 mW","150 mW","200 mW","300 mW"],"range":["#000000","#1f8a1f","#0000ff","#e6b800","#b673ff","#ff0000"]},
"legend":{"orient":"none","legendX":354,"legendY":12,"title":"Pin (980 nm)","titleFont":"Liberation Sans","titleFontSize":18,"titleFontWeight":"bold","titleColor":"#000","titleAnchor":"middle","titlePadding":1,"labelFont":"Liberation Sans","labelFontSize":19,"labelColor":"#000","symbolType":"M-1,0H4","symbolSize":400,"symbolStrokeWidth":1.5,"rowPadding":6,"labelOffset":35,"fillColor":"white","padding":0}}
}
},
{
"data":{"values":[{}]},
"mark":{"type":"rule","color":"#444","strokeWidth":1.5},
"encoding":{"y":{"datum":0,"type":"quantitative"}}
},
{
"data":{"values":[{}]},
"mark":{"type":"rect","fill":"#ffff00"},
"encoding":{"x":{"datum":1481,"type":"quantitative"},"x2":{"datum":1540.6},"y":{"datum":-0.4,"type":"quantitative"},"y2":{"datum":-5.1}}
},
{
"data":{"values":[{}]},
"mark":{"type":"text","align":"left","baseline":"middle","fontSize":19,"font":"Liberation Sans","color":"#000","text":"Pin (1546 nm) = 150 mW"},
"encoding":{"x":{"datum":1482.1,"type":"quantitative"},"y":{"datum":-2.75,"type":"quantitative"}}
},
{
"data":{"values":[{}]},
"mark":{"type":"rect","fillOpacity":0,"stroke":"#555","strokeWidth":1.5},
"encoding":{"x":{"datum":1573.2,"type":"quantitative"},"x2":{"datum":1625},"y":{"datum":-3.78,"type":"quantitative"},"y2":{"datum":-28.4}}
}
]
}
